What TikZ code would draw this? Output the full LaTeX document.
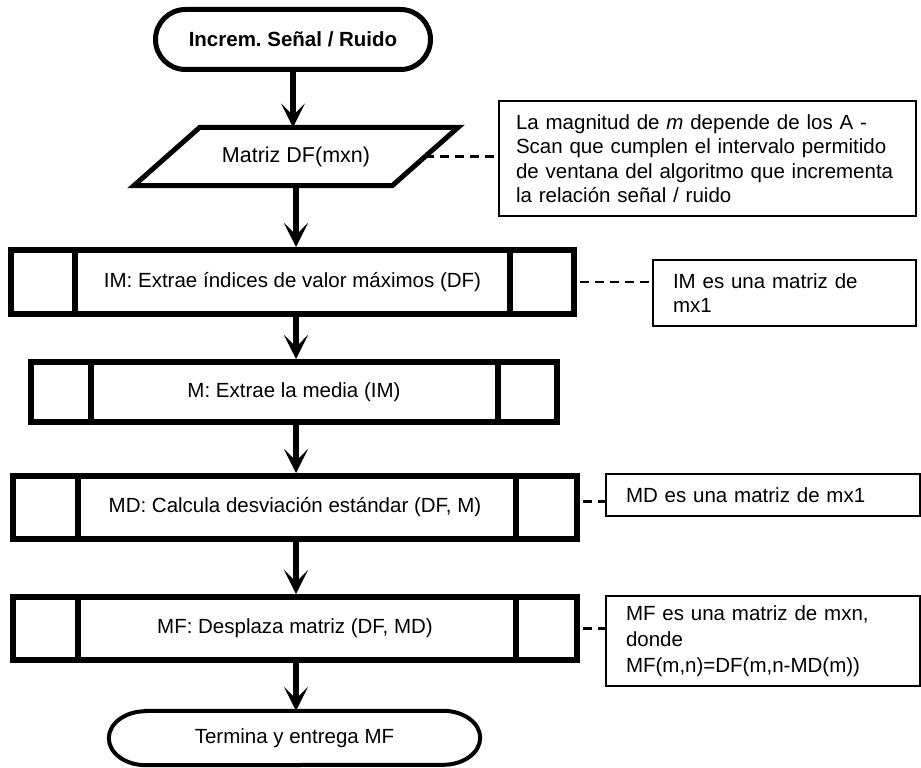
\documentclass[tikz,border=0pt]{standalone}
\usepackage{fontspec}
\setmainfont{Liberation Sans}
\usetikzlibrary{arrows.meta,shapes.misc}
\frenchspacing
\begin{document}
\begin{tikzpicture}[x=1pt,y=-1pt,
  txt/.style={font=\fontsize{20.5}{24.5}\selectfont},
  term/.style={rounded rectangle, draw, line width=5pt, inner sep=0pt, txt},
  proc/.style={rectangle, draw, line width=6pt, inner sep=0pt, txt},
  io/.style={rectangle, inner sep=0pt, txt},
  note/.style={rectangle, draw, line width=2.5pt, inner xsep=20pt, inner ysep=0pt, align=left, txt},
  flow/.style={line width=6pt, -{Stealth[length=24pt,width=24pt,inset=12pt,line width=1pt]}},
  notelink/.style={line width=2.5pt, dash pattern=on 9pt off 6pt},
  bar/.style={line width=6pt},
]
\fill[white] (0,0) rectangle (921,768);
\useasboundingbox (0,0) rectangle (921,768);

% start terminal
\node[term, minimum width=275pt, minimum height=60pt,
      font=\bfseries\fontsize{20.5}{24}\selectfont] (start) at (293,39.5) {Increm. Señal / Ruido};

% input parallelogram
\node[io, minimum width=258pt, minimum height=58pt, font=\fontsize{21.5}{24}\selectfont] (df) at (296,156.5) {Matriz DF(mxn)};
\draw[line width=5pt, line join=miter]
  ([xshift=33pt]df.north west) -- ([xshift=33pt]df.north east)
  -- ([xshift=-33pt]df.south east) -- ([xshift=-33pt]df.south west) -- cycle;

% predefined processes
\node[proc, minimum width=563pt, minimum height=64pt] (im) at (292.5,282) {IM: Extrae índices de valor máximos (DF)};
\draw[bar] ([xshift=67pt]im.north west) -- ([xshift=67pt]im.south west);
\draw[bar] ([xshift=-67pt]im.north east) -- ([xshift=-67pt]im.south east);

\node[proc, minimum width=526pt, minimum height=60pt] (m) at (294,392) {M: Extrae la media (IM)};
\draw[bar] ([xshift=63pt]m.north west) -- ([xshift=63pt]m.south west);
\draw[bar] ([xshift=-62pt]m.north east) -- ([xshift=-62pt]m.south east);

\node[proc, minimum width=564pt, minimum height=63pt] (md) at (295,507.5) {MD: Calcula desviación estándar (DF, M)};
\draw[bar] ([xshift=68pt]md.north west) -- ([xshift=68pt]md.south west);
\draw[bar] ([xshift=-64pt]md.north east) -- ([xshift=-64pt]md.south east);

\node[proc, minimum width=564pt, minimum height=63pt] (mf) at (295,628.5) {MF: Desplaza matriz (DF, MD)};
\draw[bar] ([xshift=68pt]mf.north west) -- ([xshift=68pt]mf.south west);
\draw[bar] ([xshift=-64pt]mf.north east) -- ([xshift=-64pt]mf.south east);

% end terminal
\node[io, minimum width=371pt, minimum height=54pt] (end) at (294.5,738) {Termina y entrega MF};
\draw[line width=4pt]
  ([xshift=37pt]end.north west) -- ([xshift=-37pt]end.north east)
  arc[start angle=90, end angle=-90, x radius=37pt, y radius=27pt]
  -- ([xshift=37pt]end.south west)
  arc[start angle=270, end angle=90, x radius=37pt, y radius=27pt] -- cycle;

% notes
\node[note, text width=383pt, inner xsep=17pt, minimum height=115pt] (n1) at (707.5,158.5)
  {\mbox{La magnitud de \textit{m} depende de los A -}\\
   \mbox{Scan que cumplen el intervalo permitido}\\
   \mbox{de ventana del algoritmo que incrementa}\\
   \mbox{la relación señal / ruido}};
\node[note, text width=223pt, minimum height=66pt] (imn) at (784.5,293)
  {IM es una matriz de\\mx1};
\node[note, text width=274pt, minimum height=42pt] (mdn) at (763,495)
  {MD es una matriz de mx1};
\node[note, text width=274pt, minimum height=90pt,
      font=\fontsize{20.5}{26}\selectfont] (mfn) at (763,641)
  {MF es una matriz de mxn,\\donde\\MF(m,n)=DF(m,n-MD(m))};

% flow connectors
\draw[flow] (start.south) -- (start.south |- df.north);
\draw[flow] (df.south) -- (df.south |- im.north);
\draw[flow] (im.south -| df.south) -- (df.south |- m.north);
\draw[flow] (m.south -| df.south) -- (df.south |- md.north);
\draw[flow] (md.south -| df.south) -- (df.south |- mf.north);
\draw[flow] (mf.south -| df.south) -- (df.south |- end.north);

% note links
\draw[notelink] (df.east) -- (df.east -| n1.west);
\draw[notelink] ([xshift=3pt]im.east) -- (im.east -| imn.west);
\draw[notelink] ([xshift=3pt,yshift=6pt]md.east) -- ([yshift=6pt]md.east -| mdn.west);
\draw[notelink] ([xshift=3pt]mf.east) -- (mf.east -| mfn.west);
\end{tikzpicture}
\end{document}
